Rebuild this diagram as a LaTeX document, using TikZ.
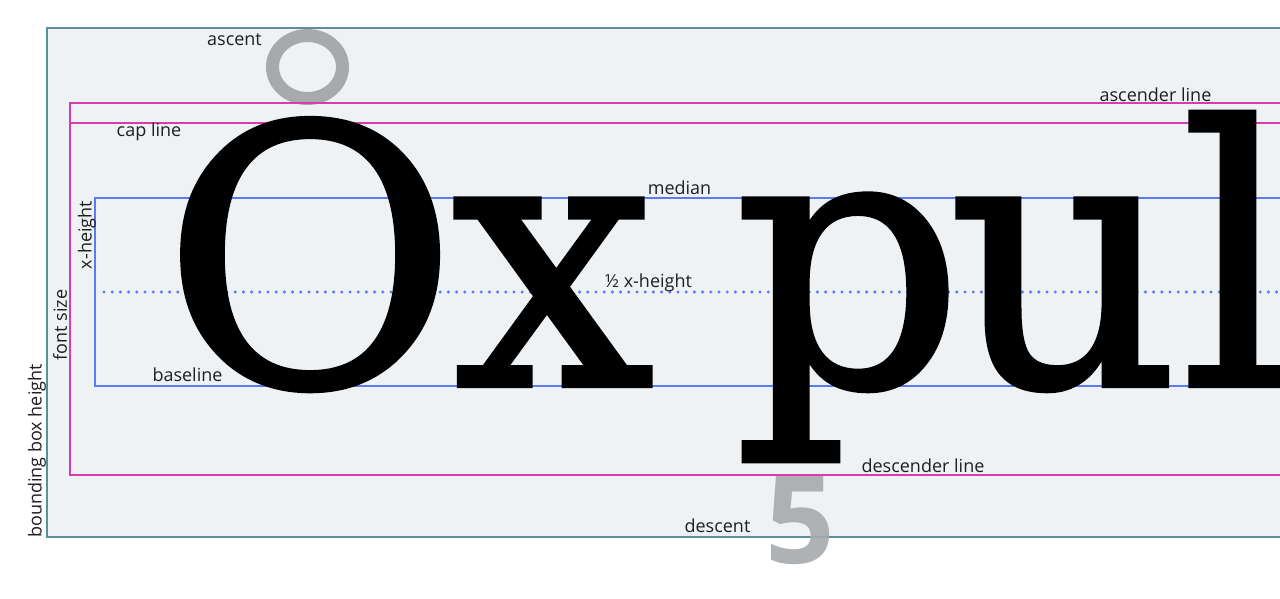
\documentclass[tikz,border=0pt]{standalone}
\usepackage{fontspec}
\setmainfont{Open Sans}
\newfontfamily\glyphfont{DejaVu Serif}[FakeBold=1.2]
\definecolor{bgfill}{HTML}{EEF2F5}
\definecolor{tealline}{HTML}{5A8F9B}
\definecolor{magline}{HTML}{D63CAD}
\definecolor{blueline}{HTML}{5B7CF0}
\definecolor{ghost}{HTML}{A6AAAD}
\definecolor{labeltext}{HTML}{1F1F1F}
\begin{document}
\begin{tikzpicture}[x=1pt,y=-1pt,
  lbl/.style={inner sep=0pt, text=labeltext, font=\fontsize{18}{18}\selectfont},
  big/.style={inner sep=0pt, anchor=base, font=\glyphfont\fontsize{361}{361}\selectfont},
  tealbox/.style={draw=tealline, line width=2.6pt, fill=bgfill},
  magbox/.style={draw=magline, line width=2.4pt},
  bluebox/.style={draw=blueline, line width=2.4pt},
  bluedot/.style={draw=blueline, line width=3.4pt, line cap=round, dash pattern=on 0pt off 8.2pt}]
\useasboundingbox (0,0) rectangle (1280,598);
\clip (0,0) rectangle (1280,598);
\fill[white] (0,0) rectangle (1280,598);
% bounding box
\draw[tealbox] (1300,28) -- (47,28) -- (47,537) -- (1300,537);
% ghost glyphs
\draw[ghost, line width=13pt] (307.5,67) ellipse [x radius=35, y radius=31.5];
\node[inner sep=0pt, text=ghost, opacity=0.9, font=\bfseries\fontsize{122}{122}\selectfont] (five) at (800,521) {5};
% font size box
\draw[magbox] (1300,103) -- (70,103) -- (70,475) -- (1300,475);
\draw[magbox] (70,123) -- (1300,123);
% x-height box
\draw[bluebox] (1300,198) -- (95,198) -- (95,386) -- (1300,386);
\draw[bluedot] (104,292) -- (1300,292);
% big letters
\node[big] (gO) at (310,386) {O};
\node[big] (gx) at (553,386) {x};
\node[big] (gp) at (849,386) {p};
\node[big] (gu) at (1064,386) {u};
\node[big, anchor=base west] (gl) at (1180,386) {l};
% labels
\node[lbl] (ascent) at (234.5,40) {ascent};
\node[lbl] (capline) at (149,132) {cap line};
\node[lbl] (median) at (679.5,188) {median};
\node[lbl] (halfx) at (648.5,283) {½ x-height};
\node[lbl] (baseline) at (187.5,375) {baseline};
\node[lbl] (ascline) at (1155.5,95) {ascender line};
\node[lbl] (descline) at (923,466) {descender line};
\node[lbl] (descent) at (717.5,526) {descent};
\node[lbl, rotate=90] (xheight) at (87,235) {x-height};
\node[lbl, rotate=90] (fontsize) at (60,325) {font size};
\node[lbl, rotate=90] (bbh) at (37,451) {bounding box height};
\end{tikzpicture}
\end{document}
